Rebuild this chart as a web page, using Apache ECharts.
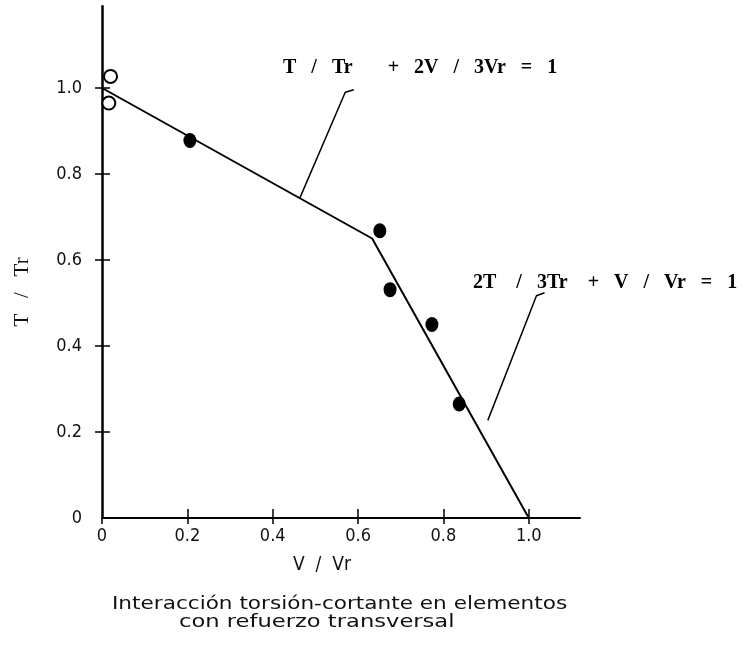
<!DOCTYPE html>
<html>
<head>
<meta charset="utf-8">
<script src="https://cdn.jsdelivr.net/npm/echarts@6/dist/echarts.min.js"></script>
<style>
html,body{margin:0;padding:0;background:#fff;}
#chart{width:742px;height:646px;}
</style>
</head>
<body>
<div id="chart"></div>
<script>
// ---- data ----
var xTicks = [0, 0.2, 0.4, 0.6, 0.8, 1.0];
var yTicks = [0, 0.2, 0.4, 0.6, 0.8, 1.0];
// interaction line (drawn): T/Tr + 2V/3Vr = 1 and 2T/3Tr + V/Vr = 1
var lineV = [0, 0.633, 1.0];
var lineT = [1.0, 0.65, 0];
// test results (filled)
var testV = [0.206, 0.651, 0.675, 0.773, 0.837];
var testT = [0.878, 0.668, 0.531, 0.450, 0.265];
// pure torsion results (open)
var openV = [0.02, 0.016];
var openT = [1.027, 0.965];
// leader lines for the equation labels
var leader1V = [0.464, 0.570, 0.59];
var leader1T = [0.745, 0.99, 0.996];
var leader2V = [0.904, 1.018, 1.037];
var leader2T = [0.227, 0.517, 0.524];
var eq1 = 'T   /   Tr       +   2V   /   3Vr   =   1';
var eq2 = '2T    /   3Tr    +   V   /   Vr   =   1';
var xName = 'V  /  Vr';
var yName = 'T   /   Tr';
var caption1 = 'Interacción torsión-cortante en elementos';
var caption2 = 'con refuerzo transversal';

function zip(a, b) { return a.map(function (v, i) { return [v, b[i]]; }); }

var chart = echarts.init(document.getElementById('chart'), null, {renderer: 'canvas'});
var tickFont = '"Liberation Sans Narrow","DejaVu Sans Condensed","Liberation Sans",sans-serif';
var fmt = function (v) { return v === 0 ? '0' : v.toFixed(1); };

var baseX = {
  type: 'value', min: 0, max: 1.12, interval: 0.2,
  splitLine: {show: false}
};
var baseY = {
  type: 'value', min: 0, max: 1.19, interval: 0.2,
  splitLine: {show: false}
};

chart.setOption({
  animation: false,
  backgroundColor: '#fff',
  grid: {left: 102, right: 162, top: 6.3, bottom: 128, containLabel: false},
  xAxis: [
    Object.assign({}, baseX, {
      axisLine: {show: true, onZero: false, lineStyle: {color: '#000', width: 2}},
      axisTick: {show: true, inside: false, length: 6, customValues: xTicks, lineStyle: {color: '#000', width: 1.5}},
      axisLabel: {show: true, customValues: xTicks, formatter: fmt, margin: 9, color: '#111', fontSize: 18, fontFamily: tickFont}
    }),
    Object.assign({}, baseX, {
      position: 'bottom', offset: 0,
      axisLine: {show: false},
      axisTick: {show: true, inside: true, length: 9, customValues: xTicks.slice(1), lineStyle: {color: '#000', width: 1.5}},
      axisLabel: {show: false}
    })
  ],
  yAxis: [
    Object.assign({}, baseY, {
      axisLine: {show: true, onZero: false, lineStyle: {color: '#000', width: 2.5}},
      axisTick: {show: true, inside: false, length: 7, customValues: yTicks.slice(1), lineStyle: {color: '#000', width: 1.5}},
      axisLabel: {show: true, customValues: yTicks, formatter: fmt, margin: 20, color: '#111', fontSize: 18, fontFamily: tickFont}
    }),
    Object.assign({}, baseY, {
      position: 'left', offset: 0,
      axisLine: {show: false},
      axisTick: {show: true, inside: true, length: 8, customValues: yTicks.slice(1), lineStyle: {color: '#000', width: 1.5}},
      axisLabel: {show: false}
    })
  ],
  graphic: [
    {type: 'text', x: 283, y: 58, style: {text: eq1, fill: '#000', font: 'bold 20px "Liberation Serif",serif', verticalAlign: 'top'}},
    {type: 'text', x: 473, y: 273, style: {text: eq2, fill: '#000', font: 'bold 20px "Liberation Serif",serif', verticalAlign: 'top'}},
    {type: 'text', x: 22, y: 292, rotation: Math.PI / 2, style: {text: yName, fill: '#111', font: '21px "Liberation Serif",serif', align: 'center', verticalAlign: 'middle'}},
    {type: 'text', x: 322, y: 565, style: {text: xName, fill: '#111', font: '19px "DejaVu Sans Condensed","DejaVu Sans",sans-serif', align: 'center', verticalAlign: 'middle'}},
    {type: 'text', x: 112, y: 596, scaleX: 1.27, style: {text: caption1, fill: '#111', font: '17px "DejaVu Sans",sans-serif', verticalAlign: 'top'}},
    {type: 'text', x: 179, y: 614, scaleX: 1.33, style: {text: caption2, fill: '#111', font: '17px "DejaVu Sans",sans-serif', verticalAlign: 'top'}}
  ],
  series: [
    {type: 'line', data: zip(lineV, lineT), symbol: 'none', lineStyle: {color: '#000', width: 2}, z: 3},
    {type: 'line', data: zip(leader1V, leader1T), symbol: 'none', lineStyle: {color: '#000', width: 1.5}, z: 3},
    {type: 'line', data: zip(leader2V, leader2T), symbol: 'none', lineStyle: {color: '#000', width: 1.5}, z: 3},
    {type: 'scatter', data: zip(testV, testT), symbol: 'circle', symbolSize: [13, 15], itemStyle: {color: '#000', opacity: 1}, z: 4},
    {type: 'scatter', data: zip(openV, openT), symbol: 'emptyCircle', symbolSize: 13, itemStyle: {color: '#000', borderColor: '#000', borderWidth: 1.5, opacity: 1}, z: 4}
  ]
});
</script>
</body>
</html>
